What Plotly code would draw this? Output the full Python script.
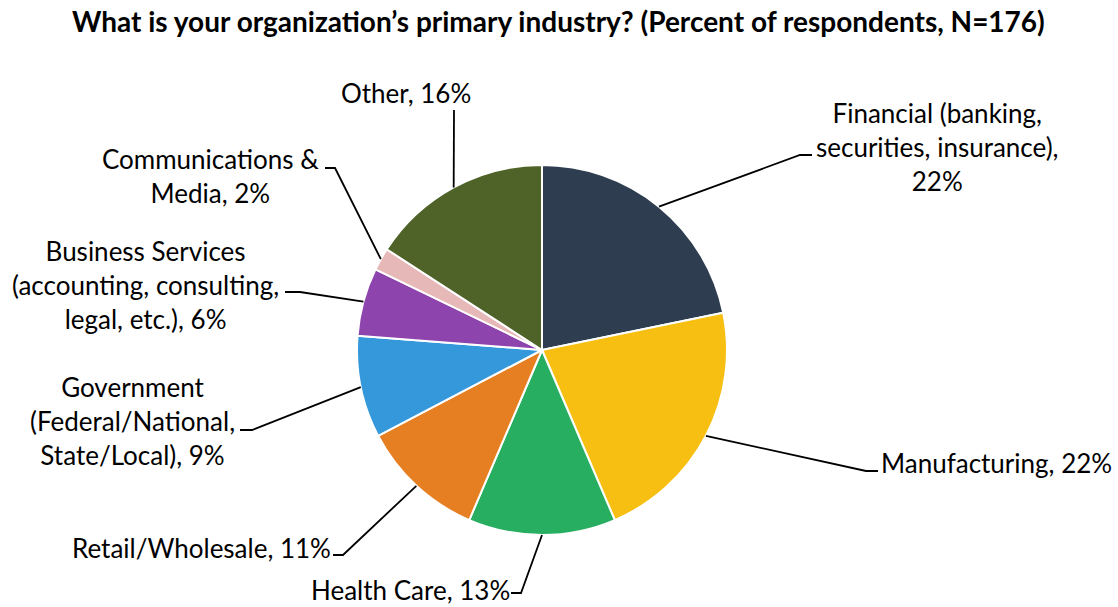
import math
import plotly.graph_objects as go

# Survey data: primary industry of responding organizations (percent, N=176)
industries = [
    "Financial (banking,<br>securities, insurance),<br>22%",
    "Manufacturing, 22%",
    "Health Care, 13%",
    "Retail/Wholesale, 11%",
    "Government<br>(Federal/National,<br>State/Local), 9%",
    "Business Services<br>(accounting, consulting,<br>legal, etc.), 6%",
    "Communications &<br>Media, 2%",
    "Other, 16%",
]
names = [
    "Financial", "Manufacturing", "Health Care", "Retail/Wholesale",
    "Government", "Business Services", "Communications & Media", "Other",
]
percents = [22, 22, 13, 11, 9, 6, 2, 16]
colors = ["#2E3D50", "#F6BF12", "#27AE61", "#E67F22", "#3598DB",
          "#8E44AD", "#E6B9B8", "#4F6228"]

TITLE = "What is your organization\u2019s primary industry? (Percent of respondents, N=176)"

# Canvas / pie geometry in pixels
W, H = 1118, 607
CX, CY, R = 542, 350, 185

# Label placement (pixel centers) and leader-line elbows / tails
label_pos = [(938, 147), (996, 463), (410, 590), (201, 548),
             (132, 421), (145, 285), (210, 176), (406, 93)]
elbows = [(800, 155), (866, 471), (521, 593), (343, 555),
          (252, 430), (300, 292), (335, 168), (454, 110)]
tails = [(812, 155), (878, 471), (511, 593), (333, 555),
         (240, 430), (285, 292), (325, 168), (454, 110)]

FONT = "Lato"


def px(x):
    return x / W


def py(y):
    return 1 - y / H


fig = go.Figure(go.Pie(
    labels=names,
    values=percents,
    sort=False,
    direction="clockwise",
    rotation=0,
    marker=dict(colors=colors, line=dict(color="white", width=2)),
    textinfo="none",
    hoverinfo="label+value",
    domain=dict(x=[px(CX - R), px(CX + R)], y=[py(CY + R), py(CY - R)]),
    showlegend=False,
))

# Leader lines start at the outer edge of each slice's middle angle
total = sum(percents)
cum = 0
shapes = []
annotations = []
for i, v in enumerate(percents):
    mid = 2 * math.pi * (cum + v / 2) / total
    cum += v
    ax = CX + R * math.sin(mid)
    ay = CY - R * math.cos(mid)
    ex, ey = elbows[i]
    tx, ty = tails[i]
    shapes.append(dict(
        type="path", xref="paper", yref="paper",
        path=f"M {px(ax)} {py(ay)} L {px(ex)} {py(ey)} L {px(tx)} {py(ty)}",
        line=dict(color="black", width=1.8),
    ))
    lx, ly = label_pos[i]
    annotations.append(dict(
        x=px(lx), y=py(ly), xref="paper", yref="paper",
        text=industries[i], showarrow=False, align="center",
        xanchor="center", yanchor="middle",
        font=dict(family=FONT, size=26, color="black"),
    ))

annotations.append(dict(
    x=px(558), y=py(21), xref="paper", yref="paper",
    text=TITLE, showarrow=False, xanchor="center", yanchor="middle",
    font=dict(family=FONT, size=28, color="black", weight="bold"),
))

fig.update_layout(
    width=W, height=H,
    margin=dict(l=0, r=0, t=0, b=0),
    paper_bgcolor="white", plot_bgcolor="white",
    shapes=shapes, annotations=annotations,
)

fig.write_html("out.html")
